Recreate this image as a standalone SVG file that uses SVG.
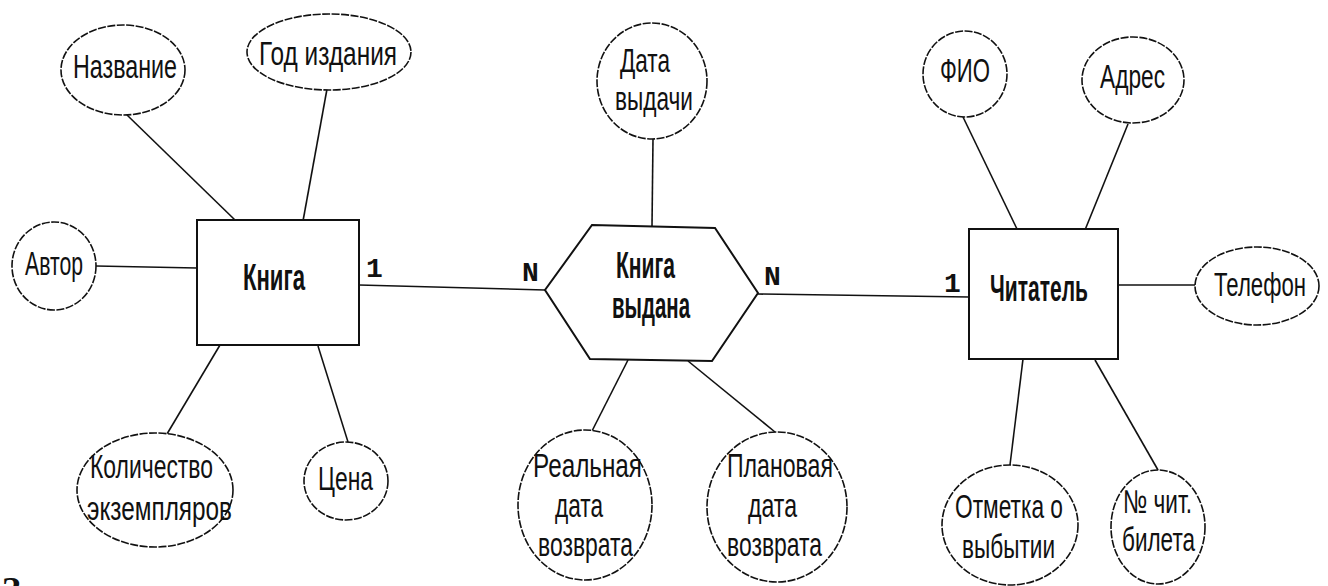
<svg xmlns="http://www.w3.org/2000/svg" width="1328" height="586" viewBox="0 0 1328 586">
<style>
.bg{fill:#fff}
.attr{fill:#fff;stroke:#111;stroke-width:1.6;stroke-dasharray:8 1.5}
.ent{fill:#fff;stroke:#111;stroke-width:2}
.ln{stroke:#111;stroke-width:1.6;fill:none}
.t{font-family:"Liberation Sans",Arial,sans-serif;font-size:33px;fill:#111}
.b{font-family:"Liberation Sans",Arial,sans-serif;font-size:37px;font-weight:bold;fill:#111}
.c{font-family:"Liberation Mono","Courier New",monospace;font-size:28px;font-weight:bold;fill:#111}
</style>
<rect class="bg" x="0" y="0" width="1328" height="586"/>
<g id="connectors">
<line class="ln" x1="127" y1="115" x2="235" y2="220"/>
<line class="ln" x1="327" y1="89" x2="303" y2="221"/>
<line class="ln" x1="96" y1="266" x2="197" y2="268"/>
<line class="ln" x1="220" y1="345" x2="167" y2="434"/>
<line class="ln" x1="318" y1="346" x2="348" y2="442"/>
<line class="ln" x1="359" y1="285" x2="545" y2="290"/>
<line class="ln" x1="653" y1="139" x2="652" y2="226"/>
<line class="ln" x1="628" y1="360" x2="592" y2="431"/>
<line class="ln" x1="688" y1="361" x2="775" y2="432"/>
<line class="ln" x1="758" y1="294" x2="969" y2="297"/>
<line class="ln" x1="963" y1="117" x2="1017" y2="229"/>
<line class="ln" x1="1128" y1="124" x2="1085" y2="230"/>
<line class="ln" x1="1118" y1="285" x2="1195" y2="285"/>
<line class="ln" x1="1023" y1="359" x2="1010" y2="465"/>
<line class="ln" x1="1095" y1="360" x2="1158" y2="470"/>
</g>
<g id="card-labels">
<text class="c" x="366" y="277">1</text>
<text class="c" x="522" y="281">N</text>
<text class="c" x="764" y="285">N</text>
<text class="c" x="944" y="292">1</text>
</g>
<g id="kniga">
<rect class="ent" x="197" y="220" width="162" height="125"/>
<text class="b" x="243" y="290" textLength="62" lengthAdjust="spacingAndGlyphs">Книга</text>
</g>
<g id="kniga-vydana">
<polygon class="ent" points="592,225 715,228 758,293 712,361 590,359 545,290"/>
<text class="b" x="616" y="278" textLength="59" lengthAdjust="spacingAndGlyphs">Книга</text>
<text class="b" x="612" y="318" textLength="78" lengthAdjust="spacingAndGlyphs">выдана</text>
</g>
<g id="chitatel">
<rect class="ent" x="969" y="229" width="149" height="130"/>
<text class="b" x="990" y="301" textLength="98" lengthAdjust="spacingAndGlyphs">Читатель</text>
</g>
<g id="nazvanie">
<ellipse class="attr" cx="123" cy="70" rx="62" ry="45"/>
<text class="t" x="73" y="78" textLength="104" lengthAdjust="spacingAndGlyphs">Название</text>
</g>
<g id="god-izdaniya">
<ellipse class="attr" cx="329" cy="52" rx="82" ry="38"/>
<text class="t" x="259" y="65" textLength="138" lengthAdjust="spacingAndGlyphs">Год издания</text>
</g>
<g id="avtor">
<ellipse class="attr" cx="54" cy="266" rx="42" ry="44"/>
<text class="t" x="25" y="275" textLength="58" lengthAdjust="spacingAndGlyphs">Автор</text>
</g>
<g id="kolichestvo">
<ellipse class="attr" cx="155" cy="490" rx="78" ry="57"/>
<text class="t" x="90" y="478" textLength="123" lengthAdjust="spacingAndGlyphs">Количество</text>
<text class="t" x="87" y="520" textLength="145" lengthAdjust="spacingAndGlyphs">экземпляров</text>
</g>
<g id="cena">
<ellipse class="attr" cx="346" cy="481" rx="42" ry="39"/>
<text class="t" x="318" y="490" textLength="55" lengthAdjust="spacingAndGlyphs">Цена</text>
</g>
<g id="data-vydachi">
<ellipse class="attr" cx="652" cy="81" rx="55" ry="58"/>
<text class="t" x="620" y="72" textLength="50" lengthAdjust="spacingAndGlyphs">Дата</text>
<text class="t" x="615" y="110" textLength="78" lengthAdjust="spacingAndGlyphs">выдачи</text>
</g>
<g id="realnaya-data">
<ellipse class="attr" cx="585" cy="505" rx="67" ry="75"/>
<text class="t" x="533" y="477" textLength="109" lengthAdjust="spacingAndGlyphs">Реальная</text>
<text class="t" x="555" y="517" textLength="48" lengthAdjust="spacingAndGlyphs">дата</text>
<text class="t" x="538" y="556" textLength="95" lengthAdjust="spacingAndGlyphs">возврата</text>
</g>
<g id="planovaya-data">
<ellipse class="attr" cx="777" cy="507" rx="70" ry="75"/>
<text class="t" x="727" y="477" textLength="106" lengthAdjust="spacingAndGlyphs">Плановая</text>
<text class="t" x="748" y="517" textLength="49" lengthAdjust="spacingAndGlyphs">дата</text>
<text class="t" x="727" y="556" textLength="95" lengthAdjust="spacingAndGlyphs">возврата</text>
</g>
<g id="fio">
<ellipse class="attr" cx="965" cy="74" rx="42" ry="43"/>
<text class="t" x="940" y="82" textLength="50" lengthAdjust="spacingAndGlyphs">ФИО</text>
</g>
<g id="adres">
<ellipse class="attr" cx="1133" cy="80" rx="51" ry="43"/>
<text class="t" x="1100" y="88" textLength="65" lengthAdjust="spacingAndGlyphs">Адрес</text>
</g>
<g id="telefon">
<ellipse class="attr" cx="1257" cy="286" rx="62" ry="39"/>
<text class="t" x="1214" y="296" font-size="31" textLength="92" lengthAdjust="spacingAndGlyphs">Телефон</text>
</g>
<g id="otmetka">
<ellipse class="attr" cx="1010" cy="525" rx="68" ry="60"/>
<text class="t" x="955" y="518" textLength="108" lengthAdjust="spacingAndGlyphs">Отметка о</text>
<text class="t" x="962" y="558" textLength="93" lengthAdjust="spacingAndGlyphs">выбытии</text>
</g>
<g id="nomer-bileta">
<ellipse class="attr" cx="1158" cy="527" rx="47" ry="57"/>
<text class="t" x="1123" y="513" textLength="69" lengthAdjust="spacingAndGlyphs">№ чит.</text>
<text class="t" x="1122" y="551" textLength="73" lengthAdjust="spacingAndGlyphs">билета</text>
</g>
<text x="2" y="602" font-family="'Liberation Serif',serif" font-weight="bold" font-size="36" fill="#111">З</text>
</svg>
